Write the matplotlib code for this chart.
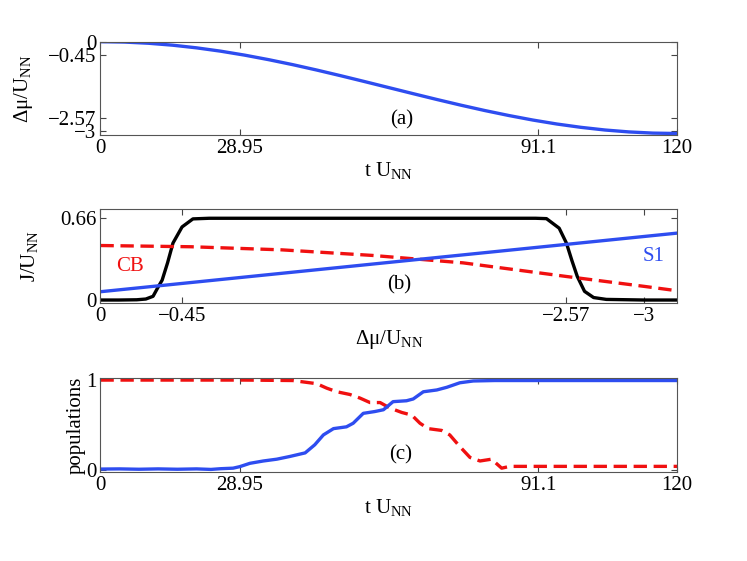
import matplotlib
matplotlib.use('Agg')
import matplotlib.pyplot as plt

plt.rcParams['font.family'] = ['Liberation Serif', 'DejaVu Serif']
plt.rcParams['mathtext.fontset'] = 'custom'
plt.rcParams['mathtext.rm'] = 'Liberation Serif'
plt.rcParams['mathtext.it'] = 'Liberation Serif:italic'

BLUE = '#2e4df0'
RED = '#f01010'

# panel (a): chemical potential ramp
t_ramp = [0, 5, 10, 15, 20, 25, 30, 35, 40, 45, 50, 55, 60,
          65, 70, 75, 80, 85, 90, 95, 100, 105, 110, 115, 120]
dmu_ramp = [0, -0.013, -0.053, -0.118, -0.208, -0.32, -0.454, -0.607, -0.775,
            -0.957, -1.149, -1.348, -1.55, -1.752, -1.951, -2.143, -2.325,
            -2.493, -2.646, -2.78, -2.892, -2.982, -3.047, -3.087, -3.1]

# panel (b): couplings vs detuning
dmu_j = [0, 0.1, 0.2, 0.25, 0.29, 0.32, 0.34, 0.37, 0.4, 0.45, 0.51, 0.6, 1.0,
         1.5, 2.0, 2.4, 2.46, 2.53, 2.57, 2.6, 2.63, 2.67, 2.72, 2.79, 3.0, 3.18]
j_black = [0, 0, 0.002, 0.008, 0.03, 0.11, 0.16, 0.3, 0.46, 0.59, 0.655, 0.66,
           0.66, 0.66, 0.66, 0.66, 0.657, 0.58, 0.46, 0.32, 0.19, 0.07, 0.02,
           0.005, 0, 0]
dmu_cb = [0, 0.5, 1.0, 1.5, 2.0, 2.57, 3.0, 3.18]
j_cb = [0.44, 0.43, 0.405, 0.36, 0.3, 0.19, 0.11, 0.075]
dmu_s1 = [0, 3.18]
j_s1 = [0.067, 0.54]

# panel (c): populations
t_pop = [0, 4, 8, 12, 16, 20, 23, 25, 27.6, 29, 31.1, 33.9, 36.7, 39.4, 42.6,
         44.6, 46.4, 48.5, 51.2, 52.6, 54.7, 57.1, 58.9, 60.9, 63.7, 65.1,
         67.2, 70, 72.1, 74.8, 77.6, 82, 90, 100, 110, 120]
pop_s1 = [0.01, 0.012, 0.008, 0.012, 0.008, 0.012, 0.006, 0.014, 0.02, 0.037,
          0.074, 0.1, 0.12, 0.15, 0.19, 0.28, 0.39, 0.46, 0.48, 0.52, 0.63,
          0.65, 0.67, 0.76, 0.77, 0.79, 0.87, 0.89, 0.92, 0.97, 0.99, 0.995,
          0.995, 0.995, 0.995, 0.995]
t_cb = [0, 10, 20, 30, 40, 45, 47.1, 49.2, 51.9, 54, 56.1, 58.2, 60.2, 62.7,
        64.8, 66.5, 68.2, 71, 72.7, 74.8, 76.9, 79, 81.4, 83.5, 85.2, 90, 100,
        110, 120]
pop_cb = [1.0, 1.0, 1.0, 1.0, 0.995, 0.96, 0.91, 0.87, 0.84, 0.8, 0.75, 0.75,
          0.69, 0.64, 0.61, 0.52, 0.46, 0.44, 0.39, 0.26, 0.14, 0.1, 0.12,
          0.02, 0.04, 0.04, 0.04, 0.04, 0.04]

t_ticks = [0, 28.95, 91.1, 120]
t_ticklabels = ['0', '28.95', '91.1', '120']
dmu_ticks = [0, -0.45, -2.57, -3]
dmu_ticklabels = ['0', '\u22120.45', '\u22122.57', '\u22123']

FS = 15
LW = 2.4
DASH = (0, (4, 2))


def style(ax):
    ax.tick_params(direction='in', top=True, right=True, labelsize=FS,
                   color='#444444', length=4, pad=3)
    for s in ax.spines.values():
        s.set_color('#555555')


fig = plt.figure(figsize=(7.47, 5.61), dpi=100)

# (a)
ax1 = fig.add_axes([0.1345, 0.7594, 0.7718, 0.1663])
ax1.plot(t_ramp, dmu_ramp, color=BLUE, lw=LW)
ax1.set_xlim(0, 120)
ax1.set_ylim(-3.15, 0.0)
ax1.set_xticks(t_ticks)
ax1.set_xticklabels(t_ticklabels)
ax1.set_yticks(dmu_ticks)
ax1.set_yticklabels(dmu_ticklabels)
ax1.set_xlabel('t U$_{\\rm NN}$', fontsize=FS, labelpad=1)
ax1.set_ylabel('\u0394\u03bc/U$_{\\rm NN}$', fontsize=FS, labelpad=9)
ax1.text(0.523, 0.16, '(a)', transform=ax1.transAxes, fontsize=FS,
         ha='center', va='center')
style(ax1)

# (b)
ax2 = fig.add_axes([0.1345, 0.4599, 0.7718, 0.1676])
ax2.plot(dmu_j, j_black, color='black', lw=LW)
ax2.plot(dmu_cb, j_cb, color=RED, lw=LW, ls=DASH)
ax2.plot(dmu_s1, j_s1, color=BLUE, lw=LW)
ax2.set_xlim(0, 3.18)
ax2.set_ylim(-0.024, 0.735)
ax2.set_xticks([-v for v in dmu_ticks])
ax2.set_xticklabels(dmu_ticklabels)
ax2.set_yticks([0, 0.66])
ax2.set_yticklabels(['0', '0.66'])
ax2.set_xlabel('\u0394\u03bc/U$_{\\rm NN}$', fontsize=FS, labelpad=1)
ax2.set_ylabel('J/U$_{\\rm NN}$', fontsize=FS, labelpad=14)
ax2.text(0.052, 0.39, 'CB', transform=ax2.transAxes, fontsize=FS, color=RED,
         ha='center', va='center')
ax2.text(0.96, 0.495, 'S1', transform=ax2.transAxes, fontsize=FS, color=BLUE,
         ha='center', va='center')
ax2.text(0.518, 0.19, '(b)', transform=ax2.transAxes, fontsize=FS,
         ha='center', va='center')
style(ax2)

# (c)
ax3 = fig.add_axes([0.1345, 0.1581, 0.7718, 0.1676])
ax3.plot(t_cb, pop_cb, color=RED, lw=LW, ls=DASH)
ax3.plot(t_pop, pop_s1, color=BLUE, lw=LW)
ax3.set_xlim(0, 120)
ax3.set_ylim(-0.026, 1.02)
ax3.set_xticks(t_ticks)
ax3.set_xticklabels(t_ticklabels)
ax3.set_yticks([0, 1])
ax3.set_yticklabels(['0', '1'])
ax3.set_xlabel('t U$_{\\rm NN}$', fontsize=FS, labelpad=1)
ax3.set_ylabel('populations', fontsize=FS, labelpad=0)
ax3.text(0.52, 0.184, '(c)', transform=ax3.transAxes, fontsize=FS,
         ha='center', va='center')
style(ax3)

fig.savefig('out.png', dpi=100)
